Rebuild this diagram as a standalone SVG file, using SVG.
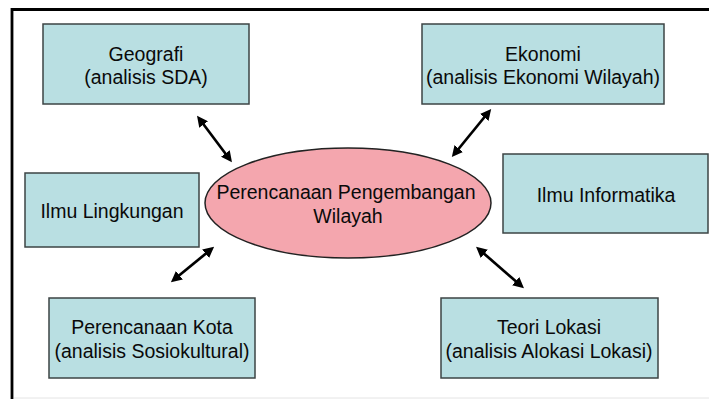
<svg xmlns="http://www.w3.org/2000/svg" width="709" height="399" viewBox="0 0 709 399">
<defs>
<style>
.box{fill:#B9DFE2;stroke:#3d4444;stroke-width:1.5}
.t{font-family:"Liberation Sans",Arial,sans-serif;font-size:19.5px;fill:#0a0a0a;text-anchor:middle}
.arr{stroke:#000;stroke-width:2.7;fill:none;marker-start:url(#ah);marker-end:url(#ah)}
</style>
<marker id="ah" viewBox="0 0 10 10" refX="4" refY="5" markerWidth="11" markerHeight="11" markerUnits="userSpaceOnUse" orient="auto-start-reverse">
<path d="M0,0 L10,5 L0,10 z" fill="#000"/>
</marker>
</defs>
<rect width="709" height="399" fill="#fff"/>
<g id="frame">
<path d="M12,399 V9.5 H709" fill="none" stroke="#000" stroke-width="2.8"/>
<line x1="14" y1="398" x2="709" y2="398" stroke="#e4e4e4" stroke-width="1"/>
</g>
<g id="geografi">
<rect class="box" x="43" y="24" width="206" height="80"/>
<text class="t" x="146" y="61">Geografi</text>
<text class="t" x="146" y="84">(analisis SDA)</text>
</g>
<g id="ekonomi">
<rect class="box" x="422" y="24" width="242" height="80"/>
<text class="t" x="543" y="61">Ekonomi</text>
<text class="t" x="543" y="84">(analisis Ekonomi Wilayah)</text>
</g>
<g id="lingkungan">
<rect class="box" x="25" y="173" width="174" height="74"/>
<text class="t" x="112" y="218">Ilmu Lingkungan</text>
</g>
<g id="informatika">
<rect class="box" x="503" y="154" width="205" height="79"/>
<text class="t" x="606" y="202">Ilmu Informatika</text>
</g>
<g id="pusat">
<ellipse cx="348" cy="203" rx="143" ry="55" fill="#F4A6AE" stroke="#222" stroke-width="1.5"/>
<text class="t" x="346" y="199">Perencanaan Pengembangan</text>
<text class="t" x="348" y="223">Wilayah</text>
</g>
<g id="kota">
<rect class="box" x="49" y="298" width="206" height="80"/>
<text class="t" x="152" y="334">Perencanaan Kota</text>
<text class="t" x="152" y="358">(analisis Sosiokultural)</text>
</g>
<g id="lokasi">
<rect class="box" x="441" y="298" width="217" height="80"/>
<text class="t" x="549" y="334">Teori Lokasi</text>
<text class="t" x="549" y="358">(analisis Alokasi Lokasi)</text>
</g>
<g id="connectors">
<line class="arr" x1="201" y1="121" x2="228" y2="157"/>
<line class="arr" x1="487" y1="114" x2="456" y2="152"/>
<line class="arr" x1="209" y1="251" x2="176" y2="278"/>
<line class="arr" x1="481" y1="251" x2="519" y2="284"/>
</g>
</svg>
